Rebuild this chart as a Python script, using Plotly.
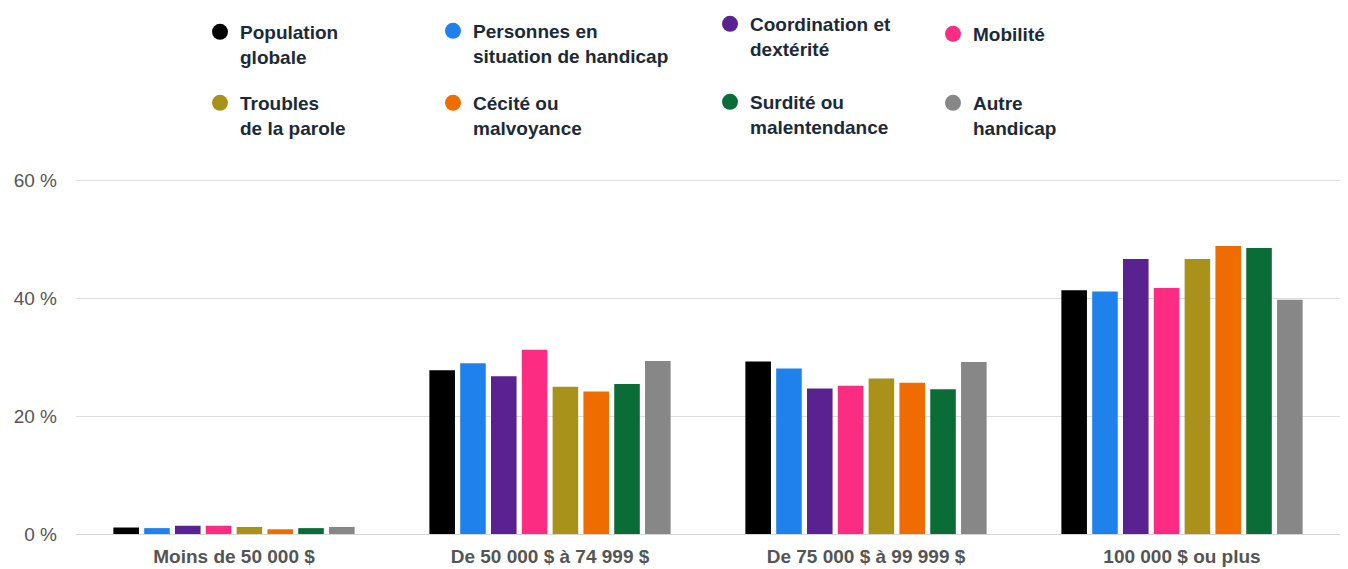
import plotly.graph_objects as go

categories = ["Moins de 50 000 $", "De 50 000 $ à 74 999 $",
              "De 75 000 $ à 99 999 $", "100 000 $ ou plus"]

series_names = ["Population<br>globale", "Personnes en<br>situation de handicap",
                "Coordination et<br>dextérité", "Mobilité",
                "Troubles<br>de la parole", "Cécité ou<br>malvoyance",
                "Surdité ou<br>malentendance", "Autre<br>handicap"]

population_globale = [1.1, 27.8, 29.3, 41.4]
personnes_handicap = [1.0, 29.0, 28.1, 41.2]
coordination_dexterite = [1.4, 26.8, 24.7, 46.7]
mobilite = [1.4, 31.3, 25.2, 41.8]
troubles_parole = [1.2, 25.0, 26.4, 46.7]
cecite_malvoyance = [0.8, 24.2, 25.7, 48.9]
surdite_malentendance = [1.0, 25.5, 24.6, 48.6]
autre_handicap = [1.2, 29.4, 29.2, 39.8]

series_values = [population_globale, personnes_handicap, coordination_dexterite,
                 mobilite, troubles_parole, cecite_malvoyance,
                 surdite_malentendance, autre_handicap]

colors = ["#000000", "#1f82ec", "#5a2190", "#fb2c82",
          "#a8921a", "#ef6c00", "#0a6c36", "#878787"]

y_ticks = [0, 20, 40, 60]
y_tick_labels = ["0 %", "20 %", "40 %", "60 %"]

W, H = 1348, 569
ML, MR, MT, MB = 76, 8, 179, 35
PW = W - ML - MR
PH = H - MT - MB

# legend layout (pixel positions of the text start / first-line top)
legend_text_x = [240, 473, 750, 973, 240, 473, 750, 973]
legend_top_y = [13, 12, 5, 15, 84, 84, 83, 84]

fig = go.Figure()

for i, (name, vals, col) in enumerate(zip(series_names, series_values, colors)):
    lg = "legend" if i == 0 else f"legend{i+1}"
    fig.add_trace(go.Bar(
        x=categories, y=vals, name=name, marker_color=col,
        marker_line_width=0, showlegend=False, legendgroup=f"g{i}",
        hovertemplate="%{x}: %{y} %<extra></extra>"))
    fig.add_trace(go.Scatter(
        x=[None], y=[None], mode="markers", name=name,
        marker=dict(color=col, size=16, symbol="circle"),
        legendgroup=f"g{i}", legend=lg, showlegend=True))

legend_font = dict(family="Liberation Sans, Arial, sans-serif", size=19,
                   color="#1b2a3a", weight="bold")
layout_legends = {}
for i in range(8):
    key = "legend" if i == 0 else f"legend{i+1}"
    lx = (legend_text_x[i] - 40 - ML) / PW
    ly = (H - MB - legend_top_y[i]) / PH
    layout_legends[key] = dict(
        x=lx, y=ly, xanchor="left", yanchor="top", orientation="v",
        font=legend_font, bgcolor="rgba(0,0,0,0)", valign="top",
        borderwidth=0)

fig.update_layout(
    width=W, height=H,
    margin=dict(l=ML, r=MR, t=MT, b=MB, pad=0, autoexpand=False),
    paper_bgcolor="white", plot_bgcolor="white",
    barmode="group", bargap=0.22, bargroupgap=0.17,
    font=dict(family="Liberation Sans, Arial, sans-serif", color="#555555"),
    xaxis=dict(showgrid=False, showline=False, zeroline=False,
               tickfont=dict(size=19, color="#555555", weight="bold"),
               ticks="", ticklabelstandoff=9, automargin=False),
    yaxis=dict(range=[0, 60.3], tickvals=y_ticks, ticktext=y_tick_labels,
               showgrid=True, gridcolor="#dedede", gridwidth=1,
               zeroline=True, zerolinecolor="#d6d6d6", zerolinewidth=1,
               tickfont=dict(size=19, color="#555555"), ticks="",
               ticklabelstandoff=18, automargin=False),
    **layout_legends,
)

fig.write_html("out.html",
               config={"displayModeBar": False},
               post_script="document.body.style.margin='0';"
                           "document.body.style.overflow='hidden';")
